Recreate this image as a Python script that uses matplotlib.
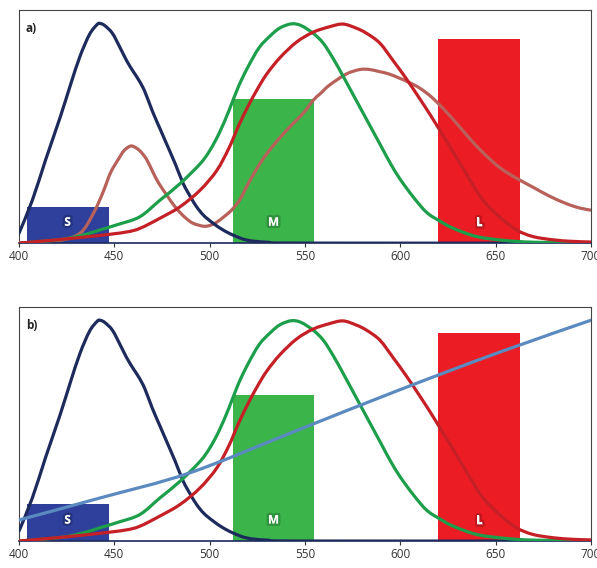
import matplotlib
matplotlib.use("Agg")
import numpy as np
import matplotlib.pyplot as plt
import matplotlib.patheffects as pe
from matplotlib.path import Path
from matplotlib.patches import PathPatch

plt.rcParams["font.family"] = ["Open Sans", "DejaVu Sans"]

# S cone (navy)
s_wl = [400, 407, 414, 421.5, 427, 432, 437, 441, 442.5, 445, 449, 453, 456.5, 460, 463, 466,
        470, 474, 477, 482, 486.2, 490, 493.2, 497, 501.9, 507, 512.4, 519.4, 530, 550, 700]
s_val = [0.045, 0.195, 0.38, 0.57, 0.72, 0.85, 0.95, 0.995, 1.0, 0.99, 0.955, 0.89, 0.83, 0.78, 0.74,
         0.69, 0.6, 0.52, 0.46, 0.36, 0.27, 0.21, 0.165, 0.125, 0.09, 0.06, 0.036, 0.014, 0.004, 0.0, 0.0]

# M cone (green)
m_wl = [400, 415, 425, 435, 442.5, 452, 463.4, 473.9, 484.4, 494.9, 500, 505, 510, 515, 520, 526,
        532, 537, 543, 548, 554.3, 559.6, 564.8, 570, 575, 580, 585, 590, 595, 600, 606.8, 613.8,
        620.8, 627.6, 640, 655, 670, 700]
m_val = [0.0, 0.01, 0.02, 0.04, 0.06, 0.085, 0.12, 0.195, 0.27, 0.36, 0.42, 0.5, 0.6, 0.71, 0.8, 0.89,
         0.945, 0.98, 0.998, 0.99, 0.955, 0.91, 0.84, 0.76, 0.68, 0.6, 0.52, 0.44, 0.36, 0.29, 0.21,
         0.14, 0.1, 0.068, 0.03, 0.012, 0.004, 0.0]

# L cone (red)
l_wl = [400, 420, 442.5, 456, 463.4, 473.9, 484.4, 494.9, 503.7, 510, 515, 520, 525, 530, 537, 545.6,
        554.3, 563, 570, 577, 582.3, 589.3, 596.3, 603, 610, 616, 621, 626, 635, 643, 652,
        661, 669.5, 680, 690, 700]
l_val = [0.0, 0.015, 0.035, 0.05, 0.067, 0.113, 0.165, 0.24, 0.33, 0.43, 0.53, 0.62, 0.7, 0.77, 0.845, 0.915,
         0.96, 0.985, 0.997, 0.978, 0.955, 0.91, 0.83, 0.75, 0.66, 0.58, 0.51, 0.44, 0.31, 0.2, 0.12,
         0.06, 0.03, 0.015, 0.008, 0.005]

# second curve in panel a (brownish)
r_wl = [400, 420, 432, 439, 444, 448, 452, 455, 458, 460, 463.4, 467, 470.4, 473.5, 477.4, 481,
        484.4, 488, 491.4, 496.6, 500, 503.7, 507.5, 511.5, 516, 520.2, 527, 533, 540, 545.6, 550,
        554.3, 558, 563, 571.8, 578.8, 584, 589.3, 594, 599.8, 605, 610.3, 617, 626, 635, 643, 652,
        660, 669.5, 678, 687, 694, 700]
r_val = [0.0, 0.01, 0.045, 0.135, 0.23, 0.32, 0.38, 0.42, 0.44, 0.44, 0.42, 0.38, 0.32, 0.27, 0.22,
         0.175, 0.14, 0.11, 0.09, 0.077, 0.08, 0.095, 0.12, 0.15, 0.2, 0.27, 0.37, 0.44, 0.51, 0.56,
         0.6, 0.65, 0.68, 0.72, 0.77, 0.79, 0.79, 0.78, 0.77, 0.75, 0.73, 0.705, 0.66, 0.58, 0.49,
         0.415, 0.345, 0.3, 0.255, 0.215, 0.18, 0.16, 0.15]

# rising line in panel b
b_wl = [400, 442.5, 490, 547, 600, 652, 700]
b_val = [0.095, 0.195, 0.31, 0.505, 0.686, 0.855, 1.0]

# bars
bar_labels = ["S", "M", "L"]
bar_left = [404, 512, 620]
bar_right = [447, 555, 663]
bar_height_a = [0.164, 0.655, 0.93]
bar_height_b = [0.168, 0.66, 0.94]
bar_colors = ["#2e3f9c", "#3bb44a", "#ec1c24"]

xticks = [400, 450, 500, 550, 600, 650, 700]


def smooth_curve(ax, x, y, color, zorder):
    # Catmull-Rom through the points, drawn as cubic bezier segments
    p = np.column_stack([x, y]).astype(float)
    verts = [p[0]]
    codes = [Path.MOVETO]
    for i in range(len(p) - 1):
        p0 = p[i - 1] if i > 0 else p[i]
        p3 = p[i + 2] if i + 2 < len(p) else p[i + 1]
        c1 = p[i] + (p[i + 1] - p0) / 6.0
        c2 = p[i + 1] - (p3 - p[i]) / 6.0
        verts += [c1, c2, p[i + 1]]
        codes += [Path.CURVE4] * 3
    ax.add_patch(PathPatch(Path(verts, codes), facecolor="none", edgecolor=color,
                           lw=2.3, zorder=zorder, capstyle="round", joinstyle="round"))


fig = plt.figure(figsize=(5.97, 5.68), dpi=100)
ax_a = fig.add_axes([0.0318, 0.572, 0.958, 0.41])
ax_b = fig.add_axes([0.0318, 0.0475, 0.958, 0.412])


def panel(ax, tag, heights):
    for lab, lft, rgt, h, c in zip(bar_labels, bar_left, bar_right, heights, bar_colors):
        ax.bar(lft, h, width=rgt - lft, align="edge", color=c, zorder=1)
        ax.text((lft + rgt) / 2, 0.095, lab, color="white", fontsize=8.5, fontweight="bold",
                ha="center", va="center", zorder=5,
                path_effects=[pe.withStroke(linewidth=3.5, foreground="#00000030")])
    smooth_curve(ax, s_wl, s_val, "#1d2a5c", 3)
    smooth_curve(ax, m_wl, m_val, "#1c9e4a", 3)
    smooth_curve(ax, l_wl, l_val, "#c42026", 3)
    ax.set_xlim(400, 700)
    ax.set_ylim(0, 1.06)
    ax.set_yticks([])
    ax.set_xticks(xticks)
    ax.tick_params(axis="x", labelsize=8.5, length=3, width=0.8, colors="#333333", pad=2)
    for sp in ax.spines.values():
        sp.set_color("#444444")
        sp.set_linewidth(0.8)
    ax.spines["bottom"].set_color("#1d2a5c")
    ax.spines["bottom"].set_linewidth(1.2)
    ax.text(0.012, 0.95, tag, transform=ax.transAxes, fontsize=8.5, fontweight="bold",
            color="#222222", ha="left", va="top")


panel(ax_a, "a)", bar_height_a)
smooth_curve(ax_a, r_wl, r_val, "#b8615b", 2)
panel(ax_b, "b)", bar_height_b)
smooth_curve(ax_b, b_wl, b_val, "#5a8ac0", 4)

fig.savefig("out.png", dpi=100)
